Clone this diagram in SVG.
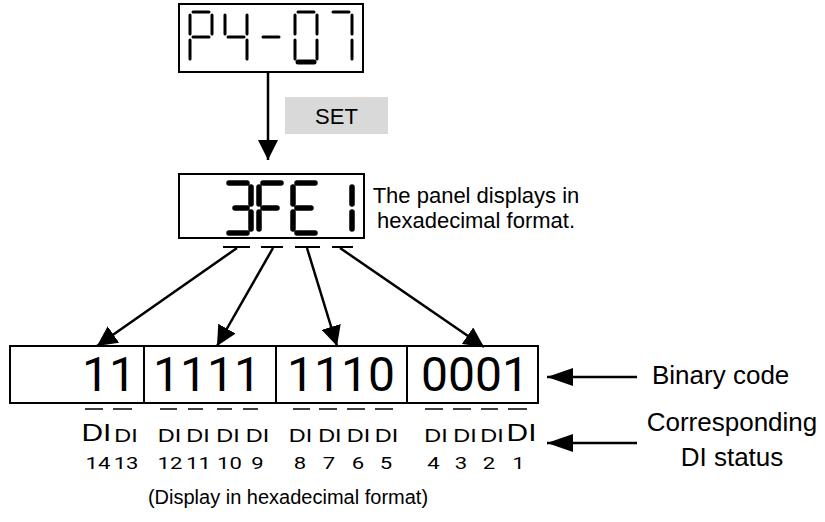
<svg xmlns="http://www.w3.org/2000/svg" width="825" height="522" viewBox="0 0 825 522">
<defs>
<style>
text{font-family:"Liberation Sans",Arial,sans-serif;fill:#000}
.box{fill:#fff;stroke:#000;stroke-width:2}
.seg1{stroke:#000;stroke-width:3;stroke-linecap:round;fill:none}
.seg2{stroke:#000;stroke-width:5.5;stroke-linecap:round;fill:none}
.con{stroke:#000;stroke-width:2.5;fill:none}
.ol{stroke:#000;stroke-width:1.5}
.di{font-size:18px;text-anchor:middle}
.dib{font-size:23px;text-anchor:middle}
.num{font-size:17px;text-anchor:middle;font-family:Roboto,"Liberation Sans",sans-serif}
.bin{font-size:48px;font-family:Roboto,"Liberation Sans",sans-serif}
.lbl{font-size:22px}
.rl{font-size:26px}
</style>
<marker id="ah" viewBox="0 0 20 20" refX="20" refY="10" markerWidth="20" markerHeight="20" markerUnits="userSpaceOnUse" orient="auto"><path d="M0,0 L20,10 L0,20 z" fill="#000"/></marker>
<marker id="ah2" viewBox="0 0 26 20" refX="26" refY="10" markerWidth="26" markerHeight="20" markerUnits="userSpaceOnUse" orient="auto"><path d="M0,1 L26,10 L0,19 z" fill="#000"/></marker>
</defs>

<g id="display-p4-07">
<rect class="box" x="179" y="4" width="184" height="68"/>
<g class="seg1">
<path d="M193,12 H209 M190,15 V34 M212,15 V34 M193,37 H209 M190,40 V59"/>
<path d="M225,15 V34 M228,37 H244 M247,15 V34 M247,40 V59"/>
<path d="M263,37 H279"/>
<path d="M298,12 H314 M295,15 V34 M317,15 V34 M295,40 V59 M317,40 V59"/>
<path d="M298,62 H314" style="stroke-width:5"/>
<path d="M333,12 H349 M352,15 V34 M352,40 V59"/>
</g>
</g>

<g id="set-label">
<rect x="285" y="97" width="103" height="37" fill="#d9d9d9"/>
<text x="336.5" y="124" font-size="22" text-anchor="middle">SET</text>
</g>

<g id="display-3fe1">
<rect class="box" x="179" y="174" width="185" height="64"/>
<g class="seg2">
<path d="M229,183 H247 M251,187 V204 M235,208 H247 M251,212 V229 M229,233 H247"/>
<path d="M263,183 H281 M259,187 V204 M259,212 V229 M263,208 H277"/>
<path d="M297,183 H315 M293,187 V204 M293,212 V229 M297,208 H311 M297,233 H315"/>
<path d="M352,187 V204 M352,212 V229"/>
</g>
<path class="ol" style="stroke-width:2" d="M223,247 H250 M261,247 H283 M295,247 H320 M332,247 H353"/>
</g>

<g id="hex-note">
<text class="lbl" x="476" y="203" text-anchor="middle">The panel displays in</text>
<text class="lbl" x="476" y="228" text-anchor="middle">hexadecimal format.</text>
</g>

<g id="binary-row">
<rect class="box" x="10" y="346" width="134" height="57"/>
<rect class="box" x="144" y="346" width="132" height="57"/>
<rect class="box" x="276" y="346" width="131" height="57"/>
<rect class="box" x="407" y="346" width="131" height="57"/>
<text class="bin" x="136" y="391" text-anchor="end">11</text>
<text class="bin" x="153" y="391">1111</text>
<text class="bin" x="287" y="391">1110</text>
<text class="bin" x="421" y="391">0001</text>
</g>

<g id="binary-label">
<text class="rl" x="652" y="384">Binary code</text>
</g>

<g id="di-labels">
<path class="ol" d="M85,409 H103 M113,409 H132 M160,409 H177 M188,409 H203 M217,409 H232 M243,409 H258 M293,409 H310 M319,409 H337 M347,409 H365 M375,409 H393 M425,409 H443 M453,409 H471 M481,409 H498 M508,409 H527"/>
<g transform="scale(1.3,1)">
<text class="dib" x="74.2" y="441">DI</text>
<text class="di" x="96.9" y="442">DI</text>
<text class="di" x="130.4" y="442">DI</text>
<text class="di" x="152.3" y="442">DI</text>
<text class="di" x="175.4" y="442">DI</text>
<text class="di" x="198.1" y="442">DI</text>
<text class="di" x="231.2" y="442">DI</text>
<text class="di" x="253.8" y="442">DI</text>
<text class="di" x="275.8" y="442">DI</text>
<text class="di" x="297.3" y="442">DI</text>
<text class="di" x="335.4" y="442">DI</text>
<text class="di" x="357.7" y="442">DI</text>
<text class="di" x="378.5" y="442">DI</text>
<text class="dib" x="401.2" y="441">DI</text>
<text class="num" x="75.4" y="469">14</text>
<text class="num" x="97" y="469">13</text>
<text class="num" x="130.8" y="469">12</text>
<text class="num" x="152.7" y="469">11</text>
<text class="num" x="176.5" y="469">10</text>
<text class="num" x="198.1" y="469">9</text>
<text class="num" x="230.8" y="469">8</text>
<text class="num" x="253.1" y="469">7</text>
<text class="num" x="275.4" y="469">6</text>
<text class="num" x="296.9" y="469">5</text>
<text class="num" x="333.5" y="469">4</text>
<text class="num" x="354.6" y="469">3</text>
<text class="num" x="376.2" y="469">2</text>
<text class="num" x="398.8" y="469">1</text>
</g>
</g>

<g id="di-status-label">
<text class="rl" x="732" y="431" text-anchor="middle">Corresponding</text>
<text class="rl" x="732" y="466" text-anchor="middle">DI status</text>
</g>

<g id="footer">
<text x="288" y="504" text-anchor="middle" font-size="20">(Display in hexadecimal format)</text>
</g>

<g id="connectors">
<line class="con" x1="268" y1="72" x2="268" y2="160" marker-end="url(#ah)"/>
<line class="con" x1="237" y1="248" x2="97" y2="346" marker-end="url(#ah)"/>
<line class="con" x1="273" y1="248" x2="217" y2="346" marker-end="url(#ah)"/>
<line class="con" x1="307" y1="248" x2="337" y2="346" marker-end="url(#ah)"/>
<line class="con" x1="340" y1="248" x2="484" y2="347" marker-end="url(#ah)"/>
<line class="con" x1="637" y1="377" x2="547" y2="377" marker-end="url(#ah2)"/>
<line class="con" x1="637" y1="443" x2="547" y2="443" marker-end="url(#ah2)"/>
</g>
</svg>
